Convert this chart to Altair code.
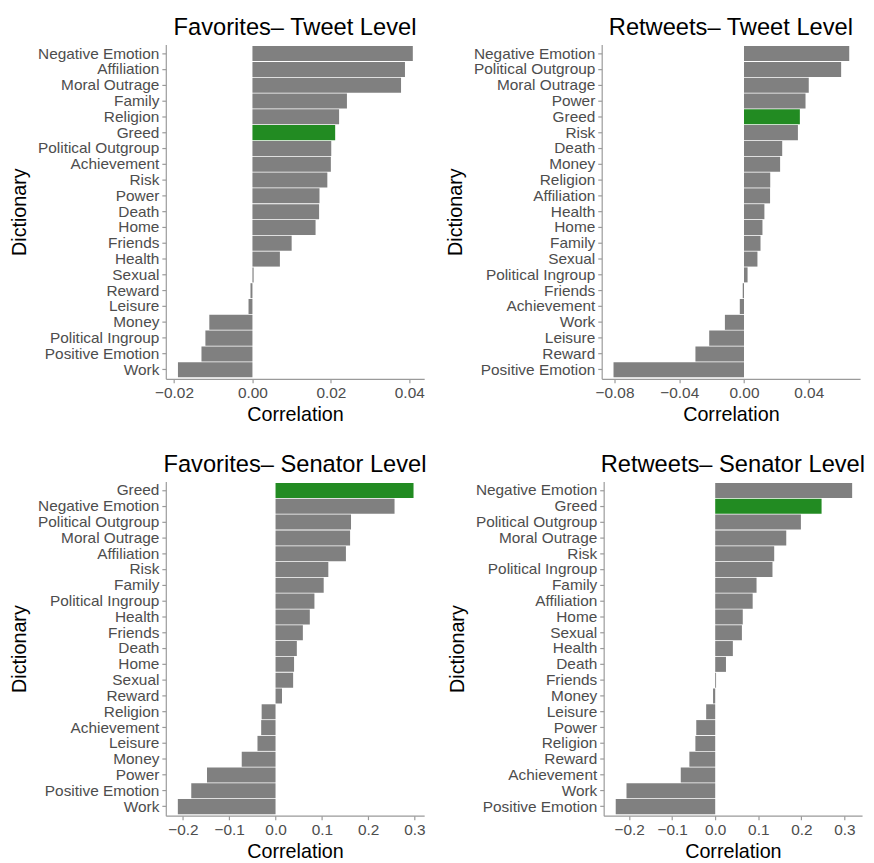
import altair as alt
import pandas as pd

# Favorites - Tweet Level
fav_tweet_dict = ["Negative Emotion", "Affiliation", "Moral Outrage", "Family", "Religion",
                  "Greed", "Political Outgroup", "Achievement", "Risk", "Power", "Death",
                  "Home", "Friends", "Health", "Sexual", "Reward", "Leisure", "Money",
                  "Political Ingroup", "Positive Emotion", "Work"]
fav_tweet_corr = [0.0409, 0.0389, 0.0379, 0.0241, 0.0221, 0.0211, 0.0201, 0.0200, 0.0191,
                  0.0171, 0.0170, 0.0161, 0.0100, 0.0070, 0.0003, -0.0005, -0.0010,
                  -0.0110, -0.0120, -0.0130, -0.0190]

# Retweets - Tweet Level
rt_tweet_dict = ["Negative Emotion", "Political Outgroup", "Moral Outrage", "Power", "Greed",
                 "Risk", "Death", "Money", "Religion", "Affiliation", "Health", "Home",
                 "Family", "Sexual", "Political Ingroup", "Friends", "Achievement", "Work",
                 "Leisure", "Reward", "Positive Emotion"]
rt_tweet_corr = [0.0650, 0.0600, 0.0400, 0.0380, 0.0345, 0.0333, 0.0236, 0.0223, 0.0162,
                 0.0161, 0.0126, 0.0114, 0.0102, 0.0083, 0.0022, -0.0008, -0.0026,
                 -0.0118, -0.0215, -0.0300, -0.0806]

# Favorites - Senator Level
fav_sen_dict = ["Greed", "Negative Emotion", "Political Outgroup", "Moral Outrage", "Affiliation",
                "Risk", "Family", "Political Ingroup", "Health", "Friends", "Death", "Home",
                "Sexual", "Reward", "Religion", "Achievement", "Leisure", "Money", "Power",
                "Positive Emotion", "Work"]
fav_sen_corr = [0.298, 0.257, 0.163, 0.161, 0.152, 0.114, 0.104, 0.084, 0.074, 0.059, 0.046,
                0.040, 0.038, 0.014, -0.030, -0.031, -0.039, -0.073, -0.148, -0.182, -0.211]

# Retweets - Senator Level
rt_sen_dict = ["Negative Emotion", "Greed", "Political Outgroup", "Moral Outrage", "Risk",
               "Political Ingroup", "Family", "Affiliation", "Home", "Sexual", "Health", "Death",
               "Friends", "Money", "Leisure", "Power", "Religion", "Reward", "Achievement",
               "Work", "Positive Emotion"]
rt_sen_corr = [0.318, 0.247, 0.199, 0.165, 0.137, 0.133, 0.096, 0.087, 0.064, 0.062, 0.041,
               0.025, 0.002, -0.005, -0.021, -0.044, -0.046, -0.060, -0.080, -0.206, -0.231]

FONT = "Liberation Sans"


def panel(cats, vals, title, domain, ticks, fmt):
    df = pd.DataFrame({"Dictionary": cats, "Correlation": vals})
    return alt.Chart(df, title=alt.TitleParams(title)).mark_bar().encode(
        x=alt.X("Correlation:Q",
                scale=alt.Scale(domain=domain, nice=False, zero=False),
                axis=alt.Axis(values=ticks, format=fmt, title="Correlation")),
        y=alt.Y("Dictionary:N", sort=cats,
                scale=alt.Scale(paddingInner=0.05, paddingOuter=0.1),
                axis=alt.Axis(title="Dictionary")),
        color=alt.condition(alt.datum.Dictionary == "Greed",
                            alt.value("#228B22"), alt.value("#808080")),
    ).properties(width=262, height=339)


p1 = panel(fav_tweet_dict, fav_tweet_corr, "Favorites\u2013 Tweet Level",
           [-0.0221, 0.0438], [-0.02, 0.0, 0.02, 0.04], ".2f")
p2 = panel(rt_tweet_dict, rt_tweet_corr, "Retweets\u2013 Tweet Level",
           [-0.0879, 0.0717], [-0.08, -0.04, 0.0, 0.04], ".2f")
p3 = panel(fav_sen_dict, fav_sen_corr, "Favorites\u2013 Senator Level",
           [-0.237, 0.321], [-0.2, -0.1, 0.0, 0.1, 0.2, 0.3], ".1f")
p4 = panel(rt_sen_dict, rt_sen_corr, "Retweets\u2013 Senator Level",
           [-0.259, 0.341], [-0.2, -0.1, 0.0, 0.1, 0.2, 0.3], ".1f")

chart = alt.vconcat(
    alt.hconcat(p1, p2, spacing=20),
    alt.hconcat(p3, p4, spacing=20),
    spacing=28,
).configure_view(stroke=None).configure_axis(
    grid=False,
    domainColor="#9a9a9a",
    tickColor="#9a9a9a",
    domainWidth=1.2,
    tickWidth=1.2,
    tickSize=4,
    labelColor="#4d4d4d",
    labelFont=FONT,
    labelFontSize=15.6,
    labelPadding=3,
    titleFont=FONT,
    titleFontSize=20,
    titleFontWeight="normal",
    titleColor="black",
    titlePadding=4,
).configure_axisY(titlePadding=8).configure_title(
    font=FONT, fontSize=24, fontWeight="normal", anchor="middle", frame="group",
    color="black", offset=5,
).properties(padding={"left": 1, "top": 2, "right": 0, "bottom": 0})

chart.save("out.html", embed_options={"renderer": "svg", "actions": False})
